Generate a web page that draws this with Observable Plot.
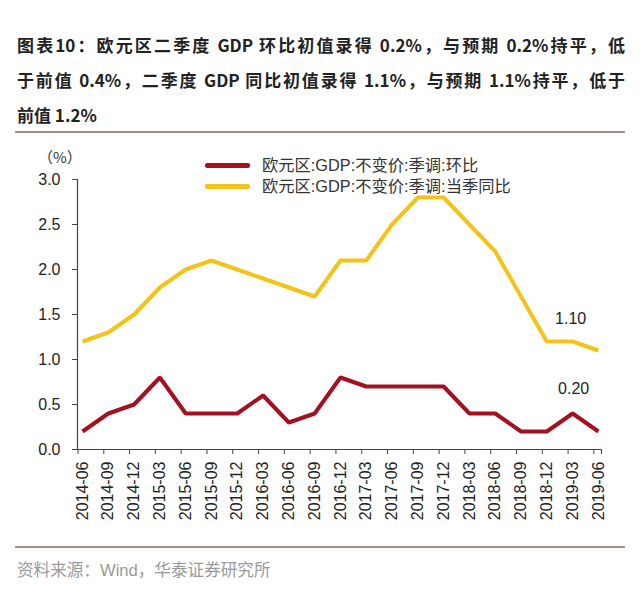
<!DOCTYPE html>
<html><head><meta charset="utf-8">
<script src="https://cdn.jsdelivr.net/npm/d3@7"></script>
<script src="https://cdn.jsdelivr.net/npm/@observablehq/plot@0.6"></script>
<style>
body{margin:0;background:#fff;width:640px;height:599px;position:relative;overflow:hidden;font-family:"Liberation Sans","Noto Sans CJK SC",sans-serif;}
#title{position:absolute;left:17px;top:27px;width:608px;font-family:"Noto Sans CJK SC",sans-serif;font-weight:700;font-size:17px;line-height:35px;color:#222;}
#title div{white-space:nowrap;}
#title .j{text-align:justify;text-align-last:justify;white-space:normal;}
.rule{position:absolute;left:15px;width:610px;height:2px;background:#9d8f88;}
#chart{position:absolute;left:0;top:140px;}
#unit{position:absolute;left:38px;top:146px;font-size:15px;color:#333;font-family:"Noto Sans CJK SC",sans-serif;}
.leg{position:absolute;left:205px;height:21px;line-height:21px;font-size:16.3px;color:#333;white-space:nowrap;}
.leg .sw{position:absolute;left:0;top:8px;width:45px;height:5px;border-radius:2px;}
.leg .tx{position:absolute;left:57px;top:0;}
#source{position:absolute;left:17px;top:557px;font-size:16.6px;color:#9a9a9a;white-space:nowrap;}
</style></head><body>
<div id="title">
<div class="j">图表10：欧元区二季度 GDP 环比初值录得 0.2%，与预期 0.2%持平，低</div>
<div class="j">于前值 0.4%，二季度 GDP 同比初值录得 1.1%，与预期 1.1%持平，低于</div>
<div>前值 1.2%</div>
</div>
<div class="rule" style="top:131px"></div>
<div id="chart"></div>
<div id="unit">（%）</div>
<div class="leg" style="top:155px"><span class="sw" style="background:#a3101f"></span><span class="tx">欧元区:GDP:不变价:季调:环比</span></div>
<div class="leg" style="top:176px"><span class="sw" style="background:#f2c318"></span><span class="tx">欧元区:GDP:不变价:季调:当季同比</span></div>
<div class="rule" style="top:546px"></div>
<div id="source">资料来源：Wind，华泰证券研究所</div>
<script>
const quarters = ["2014-06","2014-09","2014-12","2015-03","2015-06","2015-09","2015-12","2016-03","2016-06","2016-09","2016-12","2017-03","2017-06","2017-09","2017-12","2018-03","2018-06","2018-09","2018-12","2019-03","2019-06"];
const qoq = [0.2,0.4,0.5,0.8,0.4,0.4,0.4,0.6,0.3,0.4,0.8,0.7,0.7,0.7,0.7,0.4,0.4,0.2,0.2,0.4,0.2];
const yoy = [1.2,1.3,1.5,1.8,2.0,2.1,2.0,1.9,1.8,1.7,2.1,2.1,2.5,2.8,2.8,2.5,2.2,1.7,1.2,1.2,1.1];
const yTicks = [0,0.5,1.0,1.5,2.0,2.5,3.0];
const endLabelYoy = "1.10";
const endLabelQoq = "0.20";

const idx = quarters.map((d,i)=>i);
const rows = quarters.map((q,i)=>({i, q, qoq: qoq[i], yoy: yoy[i]}));
const x0 = -0.194, x1 = 20.12;
const last = rows[rows.length-1];
const labelIdx = 19;

const chart = Plot.plot({
  width: 640, height: 400,
  marginLeft: 77, marginRight: 39, marginTop: 39, marginBottom: 91,
  x: {type: "linear", domain: [x0, x1], axis: null},
  y: {domain: [0, 3], axis: null},
  style: {fontFamily: '"Liberation Sans","Noto Sans CJK SC",sans-serif', fontSize: "16px", color: "#333", background: "transparent"},
  marks: [
    Plot.axisY({ticks: yTicks, tickFormat: d3.format(".1f"), tickSize: 5, tickPadding: 12, fontSize: 16, stroke: "#444", fill: "#222", label: null}),
    Plot.axisX({ticks: idx.map(i => i - 0.175).concat([x1]), tickFormat: () => "", tickSize: 5, stroke: "#444", label: null}),
    Plot.axisX({ticks: idx, tickFormat: i => quarters[i], tickSize: 0, tickPadding: 12, tickRotate: -90, fontSize: 16, fill: "#222", label: null}),
    Plot.ruleX([x0], {y1: 0, y2: 3, stroke: "#444", strokeWidth: 1.2}),
    Plot.ruleY([0], {x1: x0, x2: x1, stroke: "#444", strokeWidth: 1.2}),
    Plot.line(rows, {x: "i", y: "yoy", stroke: "#f2c318", strokeWidth: 4, strokeLinejoin: "miter", strokeLinecap: "butt"}),
    Plot.line(rows, {x: "i", y: "qoq", stroke: "#a3101f", strokeWidth: 4, strokeLinejoin: "miter", strokeLinecap: "butt"}),
    Plot.text([{i: labelIdx, v: last.yoy, t: endLabelYoy}], {x: "i", y: "v", text: "t", dy: -32, dx: -2, fontSize: 16, fill: "#222"}),
    Plot.text([{i: labelIdx, v: last.qoq, t: endLabelQoq}], {x: "i", y: "v", text: "t", dy: -43, dx: 1, fontSize: 16, fill: "#222"})
  ]
});
document.getElementById("chart").appendChild(chart);
</script>
</body></html>
